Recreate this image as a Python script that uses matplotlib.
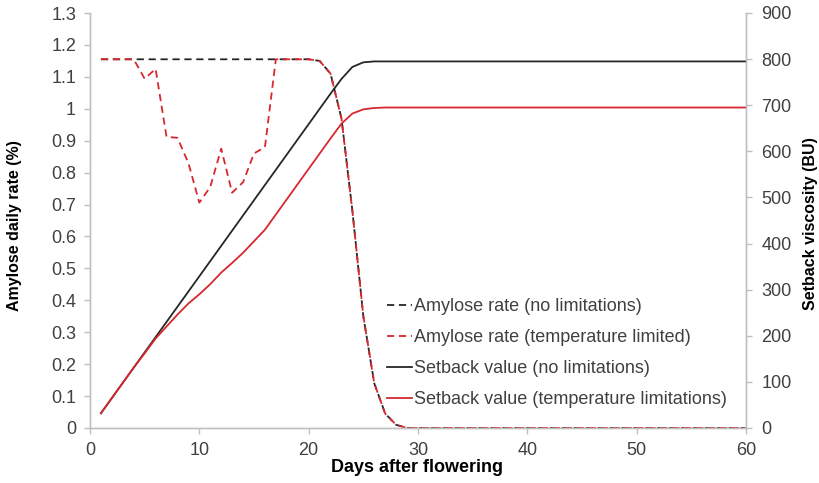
import matplotlib
matplotlib.use("Agg")
import matplotlib.pyplot as plt

plt.rcParams["font.family"] = ["Liberation Sans", "DejaVu Sans"]

# days after flowering
days = list(range(1, 61))

# amylose daily rate (%), left axis
amylose_no_lim = [
    1.155, 1.155, 1.155, 1.155, 1.155, 1.155, 1.155, 1.155, 1.155, 1.155,
    1.155, 1.155, 1.155, 1.155, 1.155, 1.155, 1.155, 1.155, 1.155, 1.155,
    1.15, 1.11, 0.97, 0.68, 0.35, 0.14, 0.045, 0.01, 0, 0,
    0, 0, 0, 0, 0, 0, 0, 0, 0, 0,
    0, 0, 0, 0, 0, 0, 0, 0, 0, 0,
    0, 0, 0, 0, 0, 0, 0, 0, 0, 0,
]
amylose_temp = [
    1.155, 1.155, 1.155, 1.155, 1.094, 1.125, 0.912, 0.909, 0.83, 0.706,
    0.755, 0.875, 0.737, 0.77, 0.86, 0.88, 1.155, 1.155, 1.155, 1.155,
    1.15, 1.11, 0.97, 0.68, 0.35, 0.14, 0.045, 0.01, 0, 0,
    0, 0, 0, 0, 0, 0, 0, 0, 0, 0,
    0, 0, 0, 0, 0, 0, 0, 0, 0, 0,
    0, 0, 0, 0, 0, 0, 0, 0, 0, 0,
]

# setback viscosity (BU), right axis
setback_no_lim = [
    32, 65, 98, 131, 164, 197, 230, 263, 296, 329,
    362, 395, 428, 461, 494, 527, 560, 593, 626, 659,
    692, 725, 757, 783, 793, 795, 795, 795, 795, 795,
    795, 795, 795, 795, 795, 795, 795, 795, 795, 795,
    795, 795, 795, 795, 795, 795, 795, 795, 795, 795,
    795, 795, 795, 795, 795, 795, 795, 795, 795, 795,
]
setback_temp = [
    32, 65, 98, 131, 162, 194, 220, 246, 270, 290,
    312, 337, 358, 380, 405, 430, 463, 496, 529, 562,
    595, 628, 660, 682, 691, 694, 695, 695, 695, 695,
    695, 695, 695, 695, 695, 695, 695, 695, 695, 695,
    695, 695, 695, 695, 695, 695, 695, 695, 695, 695,
    695, 695, 695, 695, 695, 695, 695, 695, 695, 695,
]

red = "#d7282f"
dark = "#262626"
grey = "#bfbfbf"
tick_col = "#404040"

fig = plt.figure(figsize=(8.19, 4.83), dpi=100)
ax = fig.add_axes([90 / 819, 1 - 428 / 483, (746 - 90) / 819, (428 - 13) / 483])
ax2 = ax.twinx()

l1, = ax.plot(days, amylose_no_lim, color=dark, lw=1.3, dashes=(4, 2.6),
              label="Amylose rate (no limitations)")
l2, = ax.plot(days, amylose_temp, color=red, lw=1.3, dashes=(4, 2.6),
              label="Amylose rate (temperature limited)")
l3, = ax2.plot(days, setback_no_lim, color=dark, lw=1.3,
               label="Setback value (no limitations)")
l4, = ax2.plot(days, setback_temp, color=red, lw=1.3,
               label="Setback value (temperature limitations)")

ax.set_xlim(0, 60)
ax.set_ylim(0, 1.3)
ax2.set_ylim(0, 900)
ax.set_xticks(range(0, 61, 10))
ax.set_yticks([i / 10 for i in range(14)])
ax.set_yticklabels(["0"] + [f"{i / 10:g}" for i in range(1, 14)])
ax2.set_yticks(range(0, 901, 100))

for a in (ax, ax2):
    a.spines["top"].set_visible(False)
    for side in ("left", "right", "bottom"):
        a.spines[side].set_color(grey)
        a.spines[side].set_linewidth(1.0)
    a.tick_params(colors=grey, labelcolor=tick_col, labelsize=13,
                  length=4, width=1.0, direction="out")
ax.tick_params(axis="x", pad=6)
ax.tick_params(axis="y", pad=6)
ax2.tick_params(axis="y", pad=7)

fig.text(417 / 819, 1 - 468 / 483, "Days after flowering", fontsize=13,
         fontweight="bold", ha="center", va="center")
fig.text(15 / 819, 1 - 226 / 483, "Amylose daily rate (%)", fontsize=11.5,
         fontweight="bold", rotation=90, ha="center", va="center")
fig.text(810 / 819, 1 - 224 / 483, "Setback viscosity (BU)", fontsize=11.5,
         fontweight="bold", rotation=90, ha="center", va="center")

leg = ax2.legend(handles=[l1, l2, l3, l4], loc="upper left",
                 bbox_to_anchor=(380 / 819, 1 - 291 / 483),
                 bbox_transform=fig.transFigure, frameon=False,
                 fontsize=13, handlelength=1.35, handletextpad=0.15,
                 labelspacing=0.78, borderaxespad=0)
for t in leg.get_texts():
    t.set_color(tick_col)

fig.savefig("out.png", dpi=100)
